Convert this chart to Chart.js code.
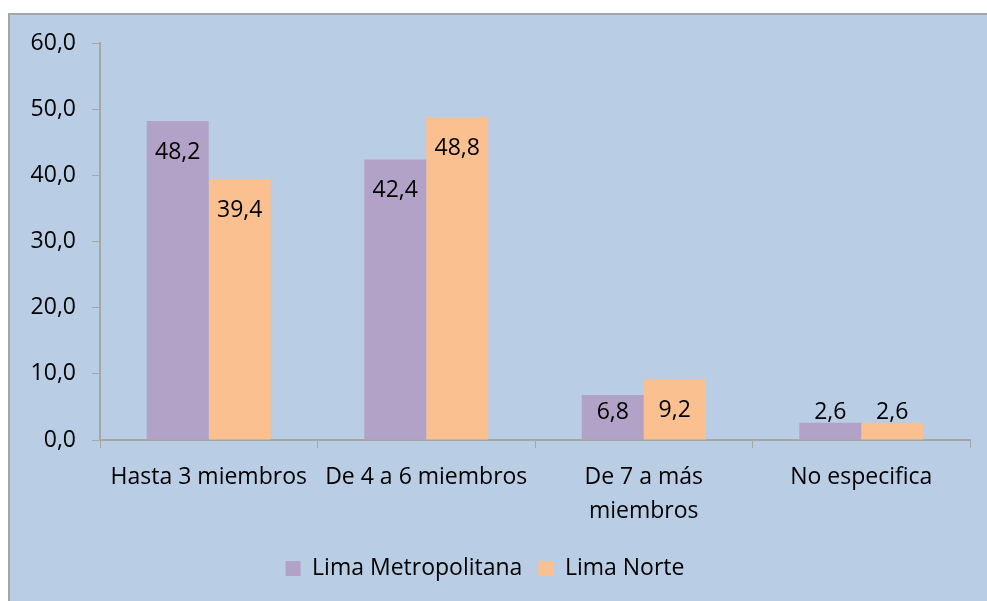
<!DOCTYPE html>
<html>
<head>
<meta charset="utf-8">
<script src="https://cdn.jsdelivr.net/npm/chart.js@4"></script>
<style>
  html,body{margin:0;padding:0;background:#fff;overflow:hidden}
  #frame{position:absolute;left:8px;top:13px;width:1000px;height:600px;background:#B9CDE5;border:2px solid #A6A6A6;box-sizing:border-box}
  #wrap{position:absolute;left:0;top:0;width:987px;height:601px}
</style>
</head>
<body>
<div id="frame"></div>
<div id="wrap"><canvas id="chart" width="987" height="601"></canvas></div>
<script>
// categorias y series
const categories = ['Hasta 3 miembros', 'De 4 a 6 miembros', ['De 7 a más', 'miembros'], 'No especifica'];
const limaMetropolitana = [48.2, 42.4, 6.8, 2.6];
const limaNorte = [39.4, 48.8, 9.2, 2.6];
const yTicks = [0, 10, 20, 30, 40, 50, 60];

const FONT = '"Open Sans", Lato, sans-serif';
const FS = 23;
const fmt = v => Number(v).toFixed(1).replace('.', ',');

// etiquetas de valor dentro de las barras
const valueLabels = {
  id: 'valueLabels',
  afterDatasetsDraw(chart){
    const ctx = chart.ctx;
    ctx.save();
    ctx.font = FS + 'px ' + FONT;
    ctx.fillStyle = '#000';
    ctx.textAlign = 'center';
    ctx.textBaseline = 'middle';
    chart.data.datasets.forEach((ds, di)=>{
      chart.getDatasetMeta(di).data.forEach((bar, i)=>{
        const y = Math.min(bar.y + 31, bar.base - 27);
        ctx.fillText(fmt(ds.data[i]), bar.x, y);
      });
    });
    ctx.restore();
  }
};

new Chart(document.getElementById('chart'), {
  type: 'bar',
  data: {
    labels: categories,
    datasets: [
      {label: 'Lima Metropolitana', data: limaMetropolitana, backgroundColor: '#B3A2C7'},
      {label: 'Lima Norte', data: limaNorte, backgroundColor: '#FAC090'}
    ]
  },
  options: {
    responsive: false,
    animation: false,
    layout: {padding: {left: 0, right: 17, top: 43, bottom: 11}},
    datasets: {bar: {categoryPercentage: 0.57, barPercentage: 1}},
    plugins: {
      tooltip: {enabled: false},
      legend: {
        position: 'bottom',
        labels: {font: {family: FONT, size: FS}, color: '#000', boxWidth: 15, boxHeight: 15, padding: 16}
      }
    },
    scales: {
      x: {
        grid: {display: true, drawOnChartArea: false, drawTicks: true, tickLength: 8, color: '#A6A6A6', offset: true},
        border: {display: true, color: '#A6A6A6', width: 2},
        ticks: {font: {family: FONT, size: FS, lineHeight: 1.45}, color: '#000', padding: 13, maxRotation: 0, autoSkip: false},
        afterFit: s => { s.height = 101; }
      },
      y: {
        min: 0, max: 60,
        afterBuildTicks: s => { s.ticks = yTicks.map(v => ({value: v})); },
        grid: {display: true, drawOnChartArea: false, drawTicks: true, tickLength: 8, color: '#A6A6A6'},
        border: {display: true, color: '#A6A6A6', width: 2},
        ticks: {font: {family: FONT, size: FS}, color: '#000', padding: 16, callback: v => fmt(v)},
        afterFit: s => { s.width = 100; }
      }
    }
  },
  plugins: [valueLabels]
});
</script>
</body>
</html>
